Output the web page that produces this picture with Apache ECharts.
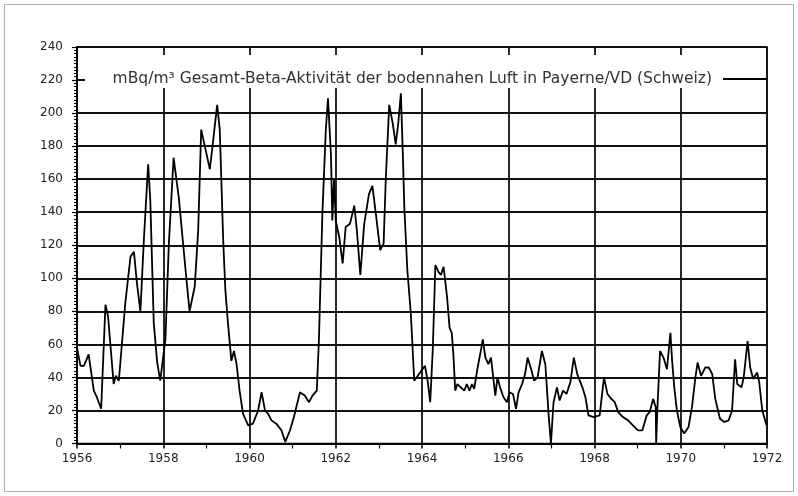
<!DOCTYPE html>
<html>
<head>
<meta charset="utf-8">
<script src="https://cdn.jsdelivr.net/npm/echarts@6/dist/echarts.min.js"></script>
<style>html,body{margin:0;padding:0;background:#fff;}#chart{width:798px;height:496px;}</style>
</head>
<body>
<div id="chart"></div>
<script>
const seriesName = 'mBq/m³ Gesamt-Beta-Aktivität der bodennahen Luft in Payerne/VD (Schweiz)';
const yearTicks = [1956, 1958, 1960, 1962, 1964, 1966, 1968, 1970, 1972];
const valueTicks = [0, 20, 40, 60, 80, 100, 120, 140, 160, 180, 200, 220, 240];
const years = [
1956.00,1956.08,1956.16,1956.27,1956.39,1956.46,1956.56,1956.66,1956.72,1956.85,1956.90,1956.97,
1957.12,1957.24,1957.32,1957.39,1957.47,1957.55,1957.65,1957.70,1957.78,1957.86,1957.93,
1958.05,1958.13,1958.24,1958.36,1958.51,1958.61,1958.73,1958.81,1958.88,1958.98,
1959.08,1959.16,1959.25,1959.31,1959.35,1959.39,1959.44,1959.50,1959.58,1959.64,1959.70,1959.77,1959.85,1959.97,
1960.08,1960.20,1960.28,1960.36,1960.43,1960.51,1960.62,1960.74,1960.83,1960.94,
1961.03,1961.17,1961.28,1961.38,1961.46,1961.56,1961.61,1961.69,1961.77,1961.82,1961.89,1961.92,1961.96,
1962.00,1962.08,1962.16,1962.23,1962.33,1962.43,1962.49,1962.57,1962.66,1962.77,1962.85,1962.93,
1963.03,1963.11,1963.16,1963.24,1963.32,1963.39,1963.45,1963.51,1963.55,1963.59,1963.66,1963.74,1963.82,1963.93,
1964.01,1964.07,1964.13,1964.19,1964.25,1964.31,1964.38,1964.44,1964.50,1964.58,1964.64,1964.69,1964.73,1964.77,1964.82,1964.90,1964.98,
1965.04,1965.10,1965.16,1965.21,1965.29,1965.37,1965.41,1965.47,1965.54,1965.60,1965.66,1965.70,1965.75,1965.81,1965.89,1965.97,
1966.03,1966.11,1966.18,1966.24,1966.32,1966.39,1966.45,1966.53,1966.60,1966.68,1966.78,1966.86,1966.94,1966.99,
1967.05,1967.13,1967.19,1967.27,1967.35,1967.44,1967.52,1967.60,1967.72,1967.79,1967.86,1967.98,
1968.12,1968.22,1968.30,1968.39,1968.47,1968.55,1968.66,1968.78,1968.89,
1969.01,1969.11,1969.21,1969.28,1969.36,1969.42,1969.43,1969.46,1969.52,1969.60,1969.68,1969.76,1969.80,1969.85,1969.91,1969.99,
1970.08,1970.18,1970.26,1970.34,1970.39,1970.47,1970.57,1970.65,1970.73,1970.80,1970.91,
1971.01,1971.11,1971.19,1971.26,1971.31,1971.41,1971.46,1971.55,1971.61,1971.68,1971.77,1971.82,1971.89,1971.99
];
const values = [
58,47,47,54,32,28,21,84,77,36,41,38,
85,113,116,97,80,123,169,147,73,49,38,
63,121,173,149,107,80,95,129,190,178,
166,184,205,190,157,123,93,73,50,56,48,32,18,11,
12,20,31,20,18,14,12,8,1,8,
16,31,29,25,29,32,63,139,190,209,174,135,160,
135,125,109,131,133,144,129,102,133,151,156,139,
117,121,160,205,194,181,194,212,180,143,105,79,38,42,
45,47,38,25,57,108,104,102,107,89,70,67,53,32,36,34,32,
36,32,36,33,46,57,63,52,48,52,38,29,40,34,28,25,
31,30,21,31,36,42,52,45,38,40,56,48,16,0,
25,34,26,32,30,37,52,42,34,28,17,16,
17,40,30,27,25,19,16,14,11,
8,8,17,19,27,22,0,22,56,52,45,67,50,34,20,10,
6,10,22,40,49,41,46,46,42,27,15,
13,14,20,51,36,34,40,62,46,39,43,37,20,11
];

const chart = echarts.init(document.getElementById('chart'));
const txt = '#222';
chart.setOption({
  animation: false,
  backgroundColor: '#fff',
  grid: { left: 77, right: 31, top: 47, bottom: 52.5, show: true, borderColor: '#000', borderWidth: 1.5, backgroundColor: 'transparent' },
  legend: {
    data: [{ name: seriesName, icon: 'rect' }], right: 31, top: 71, align: 'right', itemWidth: 44, itemHeight: 2,
    padding: 0, z: 5,
    itemStyle: { color: '#000' },
    textStyle: { fontFamily: 'DejaVu Sans', fontSize: 15.5, color: '#333', padding: [0, 6, 0, 0] }
  },
  graphic: [
    { type: 'rect', z: 3, shape: { x: 85, y: 55, width: 681, height: 33 }, style: { fill: '#fff' } },
    { type: 'rect', z: 1, shape: { x: 4.5, y: 4.5, width: 789, height: 487 }, style: { fill: 'none', stroke: '#b0b0b0', lineWidth: 1 } }
  ],
  xAxis: {
    type: 'value', min: yearTicks[0], max: yearTicks[yearTicks.length - 1], interval: 2,
    axisLine: { show: true, lineStyle: { color: '#000', width: 1.5 } },
    axisTick: { show: true, length: 5, lineStyle: { color: '#000', width: 1.5 } },
    minorTick: { show: true, splitNumber: 2, length: 5, lineStyle: { color: '#000', width: 1.2 } },
    splitLine: { show: true, lineStyle: { color: '#111', width: 1.8 } },
    axisLabel: { color: txt, fontFamily: 'DejaVu Sans', fontSize: 12, margin: 9, formatter: v => String(v) }
  },
  yAxis: {
    type: 'value', min: valueTicks[0], max: valueTicks[valueTicks.length - 1], interval: 20,
    axisLine: { show: true, lineStyle: { color: '#000', width: 1.5 } },
    axisTick: { show: true, length: 5, lineStyle: { color: '#000', width: 1.2 } },
    minorTick: { show: true, splitNumber: 10, length: 3, lineStyle: { color: '#000', width: 1 } },
    splitLine: { show: true, lineStyle: { color: '#111', width: 1.8 } },
    axisLabel: { color: txt, fontFamily: 'DejaVu Sans', fontSize: 12, margin: 14 }
  },
  series: [{
    name: seriesName, type: 'line', symbol: 'none', z: 6,
    lineStyle: { color: '#000', width: 1.8 },
    itemStyle: { color: '#000' },
    data: years.map((y, i) => [y, values[i]])
  }]
});
</script>
</body>
</html>
